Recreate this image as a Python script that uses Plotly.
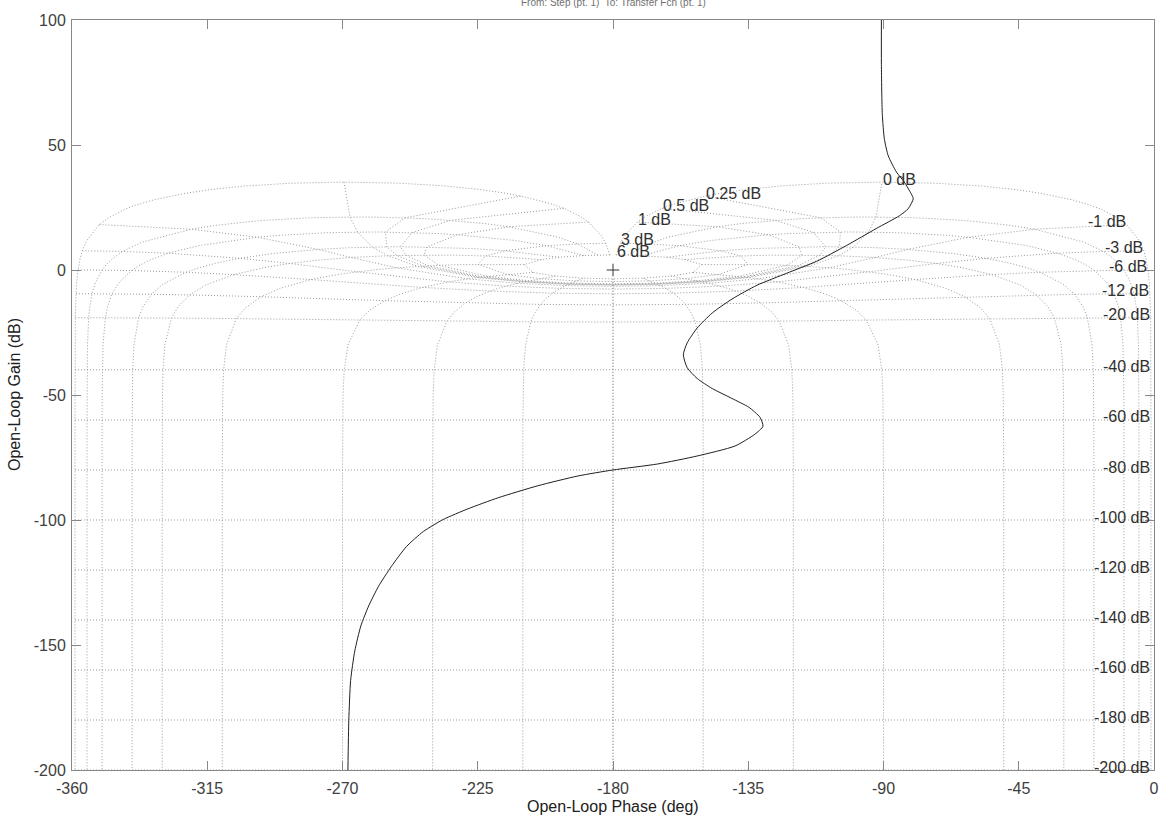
import numpy as np
import plotly.graph_objects as go

# ---- data -------------------------------------------------------------
# open-loop response (phase in deg, gain in dB)
ol_phase = [-90.7, -90.7, -90.4, -89.7, -88.4, -85.7, -83.1, -80.8, -80.1, -81.8,
            -84.7, -92.4, -102.3, -112.2, -122.2, -132.1, -140.4, -147.0, -152.0,
            -155.3, -156.6, -155.3, -152.0, -147.0, -140.4, -134.8, -131.1, -130.1,
            -132.8, -139.4, -152.0, -165.2, -180.1, -191.7, -205.0, -218.2, -228.2,
            -236.5, -243.1, -248.7, -253.7, -258.0, -261.3, -263.9, -265.9, -267.3,
            -267.9, -268.2]
ol_gain = [100, 82.1, 62.3, 52.3, 45.6, 39.2, 35.2, 30.5, 28.5, 24.5,
           21.7, 16.6, 9.8, 3.5, -1.3, -6.1, -11.6, -17.2, -23.2,
           -29.1, -33.9, -39.1, -43.4, -47.4, -51.4, -54.9, -58.9, -62.5,
           -65.7, -70.4, -74.4, -77.6, -80.0, -82.4, -86.3, -91.1, -95.5,
           -99.8, -104.6, -110.6, -118.5, -126.5, -134.4, -142.4, -152.3, -164.2,
           -180.1, -200]

# Nichols grid levels (closed-loop phase in deg, closed-loop gain in dB)
cl_phase_pts = [1, 5, 10, 20, 30, 50, 90, 120, 150, 180]
cl_gain_pts = [6, 3, 2, 1, .75, .5, .4, .3, .25, .2, .15, .1, .05, 0,
               -.05, -.1, -.15, -.2, -.25, -.3, -.4, -.5, -.75, -1, -2, -3, -4,
               -5, -6, -9, -12, -16, -20, -30, -40, -50, -60, -80, -100, -120,
               -140, -160, -180, -200, -220, -240]
cl_gain_lines = [6, 3, 1, .5, .25, 0, -1, -3, -6, -12, -20, -40, -60, -80, -100,
                 -120, -140, -160, -180, -200, -220, -240]
critical_point = (-180, 0)

x_ticks = [-360, -315, -270, -225, -180, -135, -90, -45, 0]
y_ticks = [-200, -150, -100, -50, 0, 50, 100]

title_text = "From: Step (pt. 1)  To: Transfer Fcn (pt. 1)"
x_title = "Open-Loop Phase (deg)"
y_title = "Open-Loop Gain (dB)"


# ---- grid mapping: closed-loop (gain, phase) -> open-loop (phase, gain) ----
def to_open_loop(g_db, p_deg):
    z = 10 ** (np.asarray(g_db, float) / 20) * np.exp(1j * np.deg2rad(p_deg))
    H = z / (1 - z)
    ph = np.mod(np.rad2deg(np.angle(H)) + 360, 360)
    return ph, 20 * np.log10(np.abs(H))


gx, gy = [], []
g_arr = np.array(cl_gain_pts, float)
for p in cl_phase_pts:
    ph, gh = to_open_loop(g_arr, p)
    gx += list(ph - 360) + [None] + list(-ph) + [None]
    gy += list(gh) + [None] + list(gh) + [None]

p_arr = np.array(cl_phase_pts, float)
for g in cl_gain_lines:
    ph, gh = to_open_loop(np.full(p_arr.shape, g), p_arr)
    gx += list(ph - 360) + list((-ph)[::-1]) + [None]
    gy += list(gh) + list(gh[::-1]) + [None]

FONT = "Liberation Sans, Arial, Helvetica, sans-serif"
fig = go.Figure()
fig.add_trace(go.Scatter(x=gx, y=gy, mode="lines", hoverinfo="skip",
                         line=dict(color="#9a9a9a", width=1, dash="1px,2px")))
fig.add_trace(go.Scatter(x=ol_phase, y=ol_gain, mode="lines",
                         line=dict(color="#202020", width=1, shape="spline", smoothing=0.6)))
fig.add_trace(go.Scatter(x=[critical_point[0]], y=[critical_point[1]], mode="markers",
                         marker=dict(symbol="cross-thin", size=9,
                                     line=dict(color="#333333", width=1))))

annotations = []
for g in cl_gain_lines:
    ph, gh = to_open_loop(g, 1.0)
    if gh < -205 or gh > 100:
        continue
    annotations.append(dict(
        x=float(-ph), y=float(gh), xref="x", yref="y", text=f"{g:g} dB",
        showarrow=False, xanchor="left" if g >= 0 else "right", yanchor="middle",
        yshift=4 if g == 3 else 3,
        font=dict(family=FONT, size=16, color="#303030"), borderpad=0))

annotations.append(dict(x=0.5, y=1, xref="paper", yref="paper", text=title_text,
                        showarrow=False, xanchor="center", yanchor="middle", yshift=18,
                        font=dict(family=FONT, size=10, color="#707070")))
annotations.append(dict(x=0.5, y=0, xref="paper", yref="paper", text=x_title,
                        showarrow=False, xanchor="center", yanchor="middle", yshift=-36,
                        font=dict(family=FONT, size=16, color="#202020")))
annotations.append(dict(x=0, y=0.5, xref="paper", yref="paper", text=y_title,
                        showarrow=False, xanchor="center", yanchor="middle", xshift=-58,
                        textangle=-90,
                        font=dict(family=FONT, size=16, color="#202020")))

axis_common = dict(showgrid=False, zeroline=False, showline=True, linecolor="#888888",
                   linewidth=1, mirror="ticks", ticks="inside", ticklen=9,
                   tickcolor="#888888", tickfont=dict(family=FONT, size=16, color="#404040"))

fig.update_layout(
    width=1171, height=819, showlegend=False,
    margin=dict(l=72, r=12, t=15, b=49),
    paper_bgcolor="white", plot_bgcolor="white",
    xaxis=dict(range=[-360, 0], tickvals=x_ticks, ticktext=[str(v) for v in x_ticks],
               ticklabelstandoff=4, **axis_common),
    yaxis=dict(range=[-200, 100], tickvals=y_ticks, ticktext=[str(v) for v in y_ticks],
               ticklabelstandoff=2, **axis_common),
    annotations=annotations,
)

fig.write_html("out.html")
